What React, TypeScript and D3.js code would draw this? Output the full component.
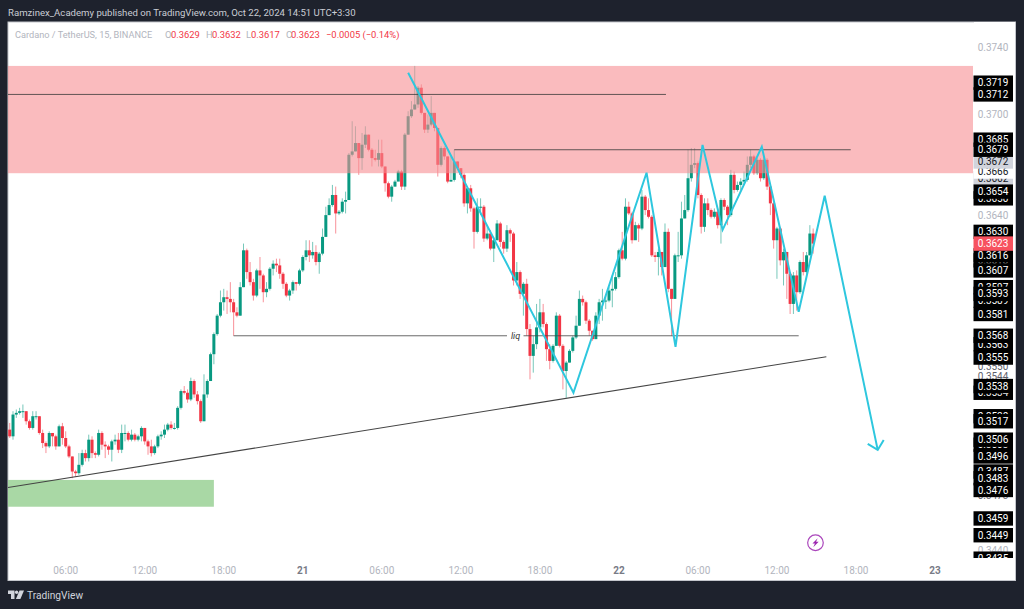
import * as d3 from 'd3';

// 15 minute candles, the first one is Oct 20 01:45
const firstOpen = 0.3512;
const closes = [
  0.3508, 0.3521, 0.3522, 0.3523, 0.3523, 0.3517, 0.3513, 0.3520, 0.3520, 0.3510, 0.3504, 0.3502, 0.3510, 0.3508, 0.3502, 0.3514,
  0.3507, 0.3502, 0.3496, 0.3487, 0.3486, 0.3491, 0.3498, 0.3495, 0.3506, 0.3498, 0.3497, 0.3510, 0.3503, 0.3502, 0.3500, 0.3505,
  0.3506, 0.3500, 0.3510, 0.3510, 0.3506, 0.3509, 0.3506, 0.3508, 0.3513, 0.3505, 0.3502, 0.3498, 0.3502, 0.3508, 0.3509, 0.3512,
  0.3515, 0.3513, 0.3513, 0.3525, 0.3535, 0.3534, 0.3530, 0.3541, 0.3533, 0.3529, 0.3517, 0.3533, 0.3541, 0.3557, 0.3569, 0.3580,
  0.3588, 0.3591, 0.3590, 0.3588, 0.3582, 0.3580, 0.3597, 0.3619, 0.3606, 0.3600, 0.3592, 0.3607, 0.3604, 0.3594, 0.3596, 0.3608,
  0.3611, 0.3610, 0.3605, 0.3599, 0.3592, 0.3595, 0.3600, 0.3599, 0.3607, 0.3615, 0.3619, 0.3616, 0.3618, 0.3612, 0.3617, 0.3627,
  0.3640, 0.3646, 0.3652, 0.3641, 0.3642, 0.3648, 0.3649, 0.3676, 0.3678, 0.3683, 0.3674, 0.3682, 0.3688, 0.3679, 0.3674, 0.3673,
  0.3677, 0.3669, 0.3659, 0.3651, 0.3657, 0.3660, 0.3666, 0.3657, 0.3688, 0.3699, 0.3703, 0.3706, 0.3716, 0.3701, 0.3691, 0.3694,
  0.3701, 0.3692, 0.3670, 0.3680, 0.3675, 0.3660, 0.3661, 0.3672, 0.3668, 0.3664, 0.3647, 0.3656, 0.3644, 0.3630, 0.3645, 0.3645,
  0.3626, 0.3629, 0.3620, 0.3625, 0.3635, 0.3624, 0.3620, 0.3631, 0.3629, 0.3601, 0.3606, 0.3593, 0.3599, 0.3572, 0.3556, 0.3563,
  0.3573, 0.3582, 0.3575, 0.3560, 0.3553, 0.3562, 0.3580, 0.3562, 0.3547, 0.3552, 0.3559, 0.3567, 0.3574, 0.3590, 0.3588, 0.3577,
  0.3571, 0.3566, 0.3580, 0.3588, 0.3589, 0.3589, 0.3595, 0.3596, 0.3603, 0.3619, 0.3614, 0.3645, 0.3641, 0.3625, 0.3634, 0.3632,
  0.3651, 0.3643, 0.3639, 0.3616, 0.3615, 0.3618, 0.3609, 0.3630, 0.3596, 0.3590, 0.3616, 0.3616, 0.3638, 0.3643, 0.3662, 0.3670,
  0.3671, 0.3652, 0.3633, 0.3647, 0.3643, 0.3639, 0.3642, 0.3634, 0.3649, 0.3645, 0.3640, 0.3664, 0.3655, 0.3658, 0.3660, 0.3661,
  0.3670, 0.3675, 0.3665, 0.3673, 0.3662, 0.3673, 0.3657, 0.3647, 0.3625, 0.3632, 0.3613, 0.3618, 0.3605, 0.3587, 0.3604, 0.3594,
  0.3612, 0.3606, 0.3616, 0.3629, 0.3623,
];
const highs = [
  0.3516, 0.3523, 0.3524, 0.3525, 0.3527, 0.3523, 0.3518, 0.3523, 0.3523, 0.3520, 0.3512, 0.3505, 0.3511, 0.3510, 0.3509, 0.3515,
  0.3516, 0.3511, 0.3503, 0.3496, 0.3488, 0.3498, 0.3500, 0.3500, 0.3509, 0.3508, 0.3499, 0.3512, 0.3511, 0.3505, 0.3503, 0.3506,
  0.3509, 0.3510, 0.3515, 0.3515, 0.3511, 0.3512, 0.3510, 0.3509, 0.3514, 0.3513, 0.3506, 0.3506, 0.3503, 0.3509, 0.3511, 0.3515,
  0.3516, 0.3517, 0.3516, 0.3526, 0.3536, 0.3538, 0.3536, 0.3543, 0.3542, 0.3535, 0.3530, 0.3545, 0.3542, 0.3558, 0.3570, 0.3581,
  0.3595, 0.3596, 0.3595, 0.3600, 0.3590, 0.3585, 0.3600, 0.3623, 0.3620, 0.3612, 0.3602, 0.3608, 0.3615, 0.3605, 0.3600, 0.3609,
  0.3613, 0.3614, 0.3614, 0.3606, 0.3600, 0.3596, 0.3601, 0.3600, 0.3608, 0.3616, 0.3625, 0.3625, 0.3624, 0.3622, 0.3618, 0.3632,
  0.3645, 0.3650, 0.3658, 0.3657, 0.3643, 0.3650, 0.3654, 0.3677, 0.3696, 0.3693, 0.3683, 0.3689, 0.3693, 0.3688, 0.3680, 0.3679,
  0.3685, 0.3685, 0.3669, 0.3660, 0.3658, 0.3661, 0.3667, 0.3667, 0.3689, 0.3702, 0.3708, 0.3729, 0.3717, 0.3718, 0.3701, 0.3700,
  0.3711, 0.3701, 0.3692, 0.3681, 0.3681, 0.3675, 0.3675, 0.3679, 0.3672, 0.3668, 0.3665, 0.3657, 0.3658, 0.3645, 0.3650, 0.3650,
  0.3646, 0.3634, 0.3631, 0.3627, 0.3637, 0.3636, 0.3625, 0.3634, 0.3632, 0.3630, 0.3612, 0.3607, 0.3600, 0.3602, 0.3575, 0.3568,
  0.3587, 0.3590, 0.3587, 0.3576, 0.3563, 0.3563, 0.3582, 0.3581, 0.3563, 0.3553, 0.3560, 0.3568, 0.3580, 0.3595, 0.3592, 0.3589,
  0.3578, 0.3571, 0.3582, 0.3590, 0.3596, 0.3592, 0.3597, 0.3604, 0.3606, 0.3620, 0.3630, 0.3650, 0.3648, 0.3642, 0.3636, 0.3635,
  0.3655, 0.3652, 0.3650, 0.3640, 0.3618, 0.3620, 0.3618, 0.3635, 0.3632, 0.3596, 0.3617, 0.3630, 0.3648, 0.3652, 0.3679, 0.3680,
  0.3680, 0.3672, 0.3653, 0.3650, 0.3650, 0.3644, 0.3644, 0.3644, 0.3650, 0.3650, 0.3646, 0.3667, 0.3666, 0.3660, 0.3662, 0.3666,
  0.3675, 0.3679, 0.3676, 0.3674, 0.3674, 0.3675, 0.3674, 0.3658, 0.3648, 0.3633, 0.3633, 0.3620, 0.3618, 0.3606, 0.3606, 0.3607,
  0.3613, 0.3618, 0.3618, 0.3634, 0.3632,
];
const lows = [
  0.3507, 0.3506, 0.3519, 0.3521, 0.3519, 0.3515, 0.3512, 0.3512, 0.3518, 0.3509, 0.3501, 0.3498, 0.3501, 0.3502, 0.3500, 0.3502,
  0.3503, 0.3501, 0.3495, 0.3483, 0.3484, 0.3485, 0.3490, 0.3493, 0.3493, 0.3495, 0.3495, 0.3496, 0.3500, 0.3495, 0.3497, 0.3493,
  0.3503, 0.3498, 0.3498, 0.3505, 0.3505, 0.3505, 0.3505, 0.3505, 0.3505, 0.3503, 0.3497, 0.3496, 0.3497, 0.3501, 0.3506, 0.3507,
  0.3511, 0.3512, 0.3512, 0.3512, 0.3524, 0.3533, 0.3528, 0.3529, 0.3531, 0.3527, 0.3516, 0.3517, 0.3531, 0.3541, 0.3551, 0.3568,
  0.3579, 0.3583, 0.3581, 0.3582, 0.3568, 0.3579, 0.3580, 0.3597, 0.3602, 0.3598, 0.3589, 0.3591, 0.3596, 0.3588, 0.3591, 0.3595,
  0.3604, 0.3606, 0.3602, 0.3596, 0.3591, 0.3589, 0.3593, 0.3595, 0.3598, 0.3606, 0.3613, 0.3612, 0.3614, 0.3610, 0.3605, 0.3616,
  0.3627, 0.3640, 0.3645, 0.3629, 0.3640, 0.3641, 0.3641, 0.3649, 0.3675, 0.3678, 0.3664, 0.3667, 0.3680, 0.3678, 0.3669, 0.3672,
  0.3669, 0.3668, 0.3654, 0.3650, 0.3648, 0.3657, 0.3661, 0.3655, 0.3655, 0.3688, 0.3698, 0.3703, 0.3704, 0.3700, 0.3689, 0.3689,
  0.3693, 0.3690, 0.3663, 0.3669, 0.3673, 0.3659, 0.3660, 0.3660, 0.3667, 0.3662, 0.3645, 0.3641, 0.3642, 0.3620, 0.3629, 0.3640,
  0.3624, 0.3625, 0.3619, 0.3612, 0.3625, 0.3621, 0.3617, 0.3618, 0.3624, 0.3598, 0.3598, 0.3590, 0.3580, 0.3568, 0.3542, 0.3546,
  0.3560, 0.3570, 0.3573, 0.3553, 0.3548, 0.3552, 0.3562, 0.3561, 0.3536, 0.3531, 0.3552, 0.3558, 0.3566, 0.3574, 0.3586, 0.3575,
  0.3568, 0.3565, 0.3566, 0.3575, 0.3577, 0.3584, 0.3588, 0.3585, 0.3595, 0.3602, 0.3613, 0.3613, 0.3640, 0.3623, 0.3626, 0.3624,
  0.3631, 0.3640, 0.3638, 0.3615, 0.3612, 0.3604, 0.3604, 0.3609, 0.3594, 0.3568, 0.3590, 0.3612, 0.3614, 0.3638, 0.3642, 0.3660,
  0.3668, 0.3650, 0.3629, 0.3630, 0.3640, 0.3638, 0.3638, 0.3632, 0.3623, 0.3643, 0.3634, 0.3639, 0.3653, 0.3654, 0.3655, 0.3658,
  0.3660, 0.3668, 0.3664, 0.3664, 0.3660, 0.3661, 0.3655, 0.3640, 0.3620, 0.3602, 0.3610, 0.3598, 0.3590, 0.3581, 0.3581, 0.3583,
  0.3593, 0.3604, 0.3604, 0.3616, 0.3617,
];

// price axis: plain ticks and the crowded drawing labels, back to front
const plainTicks = [0.374, 0.37, 0.364, 0.344];
const hiddenPlain = [0.3544, 0.3473, 0.355];
const hiddenGray = [0.3662];
const hiddenBlack = [0.365, 0.3613, 0.3597, 0.3589, 0.3563, 0.3534, 0.352, 0.3503, 0.3487, 0.3435];
const blackTags = [
  0.3719, 0.3712, 0.3685, 0.3679, 0.3654, 0.363, 0.3616, 0.3607, 0.3593, 0.3581, 0.3568, 0.3555, 0.3538, 0.3517, 0.3506,
  0.3496, 0.3483, 0.3476, 0.3459, 0.3449,
];
const whiteTag = 0.3666;
const grayTag = 0.3672;
const lastPrice = 0.3623;

// time axis
const timeHours = [6, 12, 18, 24, 30, 36, 42, 48, 54, 60, 66, 72];
const timeLabels = ['06:00', '12:00', '18:00', '21', '06:00', '12:00', '18:00', '22', '06:00', '12:00', '18:00', '23'];

// drawings, times are bar numbers
const supplyZone = [0.3729, 0.3665];
const demandZone = [0.3482, 0.3466];
const demandEndBar = 62;
const highLevel = { price: 0.3712, to: 199.3 };
const midLevel = { price: 0.3679, from: 135, to: 255.4 };
const liqLevel = { price: 0.3568, from: 68, to: 239.6 };
const trendBars = [-1, 248];
const trendPrices = [0.34773, 0.35555];
const waveBars = [121, 171.2, 193.4, 202.2, 210.4, 216.5, 228.4, 239.6, 247.5, 263.6];
const wavePrices = [0.37249, 0.3534, 0.36653, 0.35614, 0.36819, 0.36312, 0.36807, 0.35823, 0.36515, 0.34999];
const iconBar = 244.7;
const iconPrice = 0.34445;

const UP = '#089981';
const DOWN = '#f23645';
const TEAL = '#2ec7de';
const TICK = '#b2b5be';
const FONT = 'Roboto, sans-serif';

const width = 1024;
const height = 609;
const barStart = new Date(Date.UTC(2024, 9, 20, 1, 45));
const timeOf = (bar: number) => new Date(barStart.getTime() + bar * 15 * 60000);
const dayStart = new Date(Date.UTC(2024, 9, 20, 0, 0));

const x = d3
  .scaleUtc()
  .domain([timeOf(17), d3.utcHour.offset(dayStart, 72)])
  .range([65.7, 935]);
const y = d3.scaleLinear().domain([0.344, 0.374]).range([550.3, 47.5]);
const xb = (bar: number) => x(timeOf(bar));

const opens = closes.map((_, i) => (i === 0 ? firstOpen : closes[i - 1]));

const waveLine = d3
  .line<number>()
  .x((_, i) => xb(waveBars[i]))
  .y((d) => y(d));

function Tag({ price, fill, text }: { price: number; fill: string; text: string }) {
  return (
    <g>
      <rect x={973.5} y={y(price) - 7.2} width={39.5} height={14.4} fill={fill} />
      <text x={993} y={y(price)} dy="0.36em" textAnchor="middle" fontSize={10} fill={text}>
        {price.toFixed(4)}
      </text>
    </g>
  );
}

export default function App() {
  const tipX = xb(waveBars[waveBars.length - 1]);
  const tipY = y(wavePrices[wavePrices.length - 1]);
  const liqY = y(liqLevel.price);
  const iconX = xb(iconBar);
  const iconY = y(iconPrice);

  return (
    <svg
      width={width}
      height={height}
      style={{ position: 'absolute', left: 0, top: 0, display: 'block' }}
      fontFamily={FONT}
    >
      <defs>
        <clipPath id="pane">
          <rect x={8} y={22} width={1007} height={536} />
        </clipPath>
      </defs>
      <rect width={width} height={height} fill="#1e222d" />
      <text x={8} y={16} fontSize={9.6} fill="#c9ccd4">
        Ramzinex_Academy published on TradingView.com, Oct 22, 2024 14:51 UTC+3:30
      </text>
      <rect x={8} y={22} width={1007.5} height={558.5} fill="#fff" stroke="#c4c6cc" strokeWidth={1} />

      <g clipPath="url(#pane)">
        {closes.map((c, i) => {
          const color = c >= opens[i] ? UP : DOWN;
          const top = y(Math.max(opens[i], c));
          const bottom = y(Math.min(opens[i], c));
          return (
            <g key={i}>
              <line
                x1={xb(i)}
                x2={xb(i)}
                y1={y(highs[i])}
                y2={y(lows[i])}
                stroke={color}
                strokeOpacity={0.55}
                strokeWidth={1}
              />
              <rect x={xb(i) - 1.5} y={top} width={3} height={Math.max(bottom - top, 1)} fill={color} />
            </g>
          );
        })}

        <rect
          x={8}
          y={y(supplyZone[0])}
          width={965}
          height={y(supplyZone[1]) - y(supplyZone[0])}
          fill="rgb(247,142,147)"
          fillOpacity={0.6}
        />
        <rect
          x={8}
          y={y(demandZone[0])}
          width={xb(demandEndBar) - 8}
          height={y(demandZone[1]) - y(demandZone[0])}
          fill="#a9d8a5"
        />

        <line x1={8} x2={xb(highLevel.to)} y1={y(highLevel.price)} y2={y(highLevel.price)} stroke="#3a3a3a" strokeOpacity={0.8} />
        <line x1={xb(midLevel.from)} x2={xb(midLevel.to)} y1={y(midLevel.price)} y2={y(midLevel.price)} stroke="#3a3a3a" strokeOpacity={0.8} />
        <line x1={xb(liqLevel.from)} x2={507} y1={liqY} y2={liqY} stroke="#444" strokeOpacity={0.8} />
        <line x1={523.5} x2={xb(liqLevel.to)} y1={liqY} y2={liqY} stroke="#444" strokeOpacity={0.8} />
        <text x={515.5} y={liqY} dy="0.34em" textAnchor="middle" fontSize={9} fontStyle="italic" fill="#333">
          liq
        </text>
        <line
          x1={xb(trendBars[0])}
          x2={xb(trendBars[1])}
          y1={y(trendPrices[0])}
          y2={y(trendPrices[1])}
          stroke="#444"
          strokeWidth={1.1}
        />

        <path d={waveLine(wavePrices) ?? ''} fill="none" stroke={TEAL} strokeWidth={2} strokeLinejoin="miter" />
        <path
          d={`M${tipX - 10},${tipY - 6}L${tipX},${tipY}L${tipX + 6},${tipY - 10}`}
          fill="none"
          stroke={TEAL}
          strokeWidth={2}
        />

        <g transform={`translate(${iconX},${iconY})`}>
          <circle r={7.8} fill="#fff" stroke="#ab47bc" strokeWidth={1.2} />
          <path d="M2.2,-4.6L-3,0.8L-0.5,0.8L-2.2,4.6L3.2,-0.9L0.6,-0.9Z" fill="#9c27b0" />
        </g>

        {/* price axis, the later tags sit over the earlier ones */}
        <rect x={974} y={22} width={41} height={536} fill="#fff" />
        {plainTicks.map((p) => (
          <text key={p} x={993} y={y(p)} dy="0.36em" textAnchor="middle" fontSize={10} fill={TICK}>
            {p.toFixed(4)}
          </text>
        ))}
        {hiddenPlain.map((p) => (
          <Tag key={p} price={p} fill="none" text="#5d606b" />
        ))}
        {hiddenGray.map((p) => (
          <Tag key={p} price={p} fill="#d1d4dc" text="#131722" />
        ))}
        {hiddenBlack.map((p) => (
          <Tag key={p} price={p} fill="#000" text="#fff" />
        ))}
        <Tag price={whiteTag} fill="#fff" text="#131722" />
        <Tag price={grayTag} fill="#d1d4dc" text="#131722" />
        {blackTags.map((p) => (
          <Tag key={p} price={p} fill="#000" text="#fff" />
        ))}
        <Tag price={lastPrice} fill="#f7525f" text="#fff" />
      </g>

      {/* legend */}
      <g fontSize={9.4}>
        <text x={15} y={37.5} fontSize={9.2} fill={TICK}>Cardano / TetherUS, 15, BINANCE</text>
        <text x={165} y={37.5} fill={TICK}>O</text>
        <text x={171} y={37.5} fill={DOWN}>{opens[opens.length - 1].toFixed(4)}</text>
        <text x={206} y={37.5} fill={TICK}>H</text>
        <text x={212} y={37.5} fill={DOWN}>{highs[highs.length - 1].toFixed(4)}</text>
        <text x={246} y={37.5} fill={TICK}>L</text>
        <text x={251} y={37.5} fill={DOWN}>{lows[lows.length - 1].toFixed(4)}</text>
        <text x={286} y={37.5} fill={TICK}>C</text>
        <text x={291} y={37.5} fill={DOWN}>{closes[closes.length - 1].toFixed(4)}</text>
        <text x={326} y={37.5} fill={DOWN}>−0.0005 (−0.14%)</text>
      </g>

      {/* time axis */}
      {timeHours.map((h, i) => (
        <text
          key={h}
          x={x(d3.utcHour.offset(dayStart, h))}
          y={570}
          dy="0.36em"
          textAnchor="middle"
          fontSize={10}
          fill={timeLabels[i].length === 2 ? '#787b86' : TICK}
          fontWeight={timeLabels[i].length === 2 ? 700 : 400}
        >
          {timeLabels[i]}
        </text>
      ))}

      {/* footer logo */}
      <g fill="#d1d4dc">
        <path d="M8,590.5H14.5V599H11V594H8Z" />
        <circle cx={16.6} cy={592.2} r={1.7} />
        <path d="M19.5,590.5H24L20.4,599H15.9Z" />
      </g>
      <text x={27} y={599} fontSize={10.2} fill="#d1d4dc">TradingView</text>
    </svg>
  );
}
